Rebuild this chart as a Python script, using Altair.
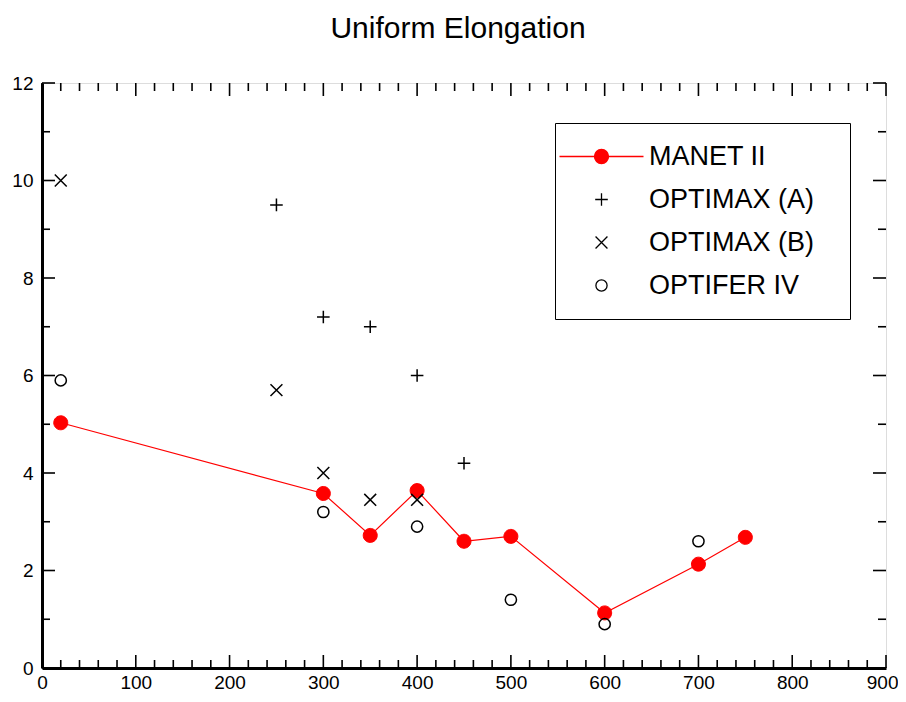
import altair as alt
import pandas as pd

# ---- data ----
series = ["MANET II", "OPTIMAX (A)", "OPTIMAX (B)", "OPTIFER IV"]

manet_x = [20, 300, 350, 400, 450, 500, 600, 700, 750]
manet_y = [5.03, 3.58, 2.72, 3.64, 2.60, 2.70, 1.13, 2.13, 2.68]

optA_x = [250, 300, 350, 400, 450]
optA_y = [9.5, 7.2, 7.0, 6.0, 4.2]

optB_x = [20, 250, 300, 350, 400]
optB_y = [10.0, 5.7, 4.0, 3.45, 3.45]

optf_x = [20, 300, 400, 500, 600, 700]
optf_y = [5.9, 3.2, 2.9, 1.4, 0.9, 2.6]

x_major = list(range(0, 901, 100))
x_minor = [v for v in range(0, 901, 20) if v % 100]
y_major = list(range(0, 13, 2))
y_minor = list(range(1, 12, 2))

# ---- styling ----
W, H = 844, 585
FONT = "Liberation Sans"
MAJ, MIN = 13, 8
PAD_TAIL = "\u00a0\u00a0\u200b"

P_MANET = "M-6,0H-1M1,0H6M-1,0A1,1 0 1,0 1,0A1,1 0 1,0 -1,0Z"
P_CIRC_FILLED = "M-1,0A1,1 0 1,0 1,0A1,1 0 1,0 -1,0Z"
P_PLUS = "M-0.9,0H0.9M0,-0.9V0.9"
P_CROSS = "M-0.85,-0.85L0.85,0.85M-0.85,0.85L0.85,-0.85"
P_CIRC = "M-0.8,0A0.8,0.8 0 1,0 0.8,0A0.8,0.8 0 1,0 -0.8,0Z"

manet = pd.DataFrame({"x": manet_x, "y": manet_y})
optA = pd.DataFrame({"x": optA_x, "y": optA_y})
optB = pd.DataFrame({"x": optB_x, "y": optB_y})
optf = pd.DataFrame({"x": optf_x, "y": optf_y})
legend_df = pd.DataFrame({"series": series, "x": [0] * 4, "y": [0] * 4})

xs = alt.Scale(domain=[0, 900], nice=False, zero=False)
ys = alt.Scale(domain=[0, 12], nice=False, zero=False)

x_axis = alt.Axis(values=x_major, ticks=False, grid=False, title=None,
                  labelFont=FONT, labelFontSize=19, labelColor="black",
                  labelPadding=5, domainColor="black", domainWidth=3,
                  labelFlush=False, labelOverlap=False,
                  labelAlign=alt.ExprRef(expr="datum.value >= 900 ? 'right' : 'center'"),
                  labelOffset=alt.ExprRef(expr="datum.value >= 900 ? 12 : 0"))
y_axis = alt.Axis(values=y_major, ticks=False, grid=False, title=None,
                  labelFont=FONT, labelFontSize=19, labelColor="black",
                  labelPadding=9, domainColor="black", domainWidth=3,
                  labelFlush=False, labelOverlap=False)

X = alt.X("x:Q", scale=xs, axis=x_axis)
Y = alt.Y("y:Q", scale=ys, axis=y_axis)


def xticks(vals, length, top):
    df = pd.DataFrame({"x": vals})
    if top:
        yy, yy2 = alt.value(0), alt.value(length)
    else:
        yy, yy2 = alt.value(H), alt.value(H - length)
    return alt.Chart(df).mark_rule(color="black", strokeWidth=1.6).encode(
        x=alt.X("x:Q", scale=xs, axis=x_axis), y=yy, y2=yy2)


def yticks(vals, length, right):
    df = pd.DataFrame({"y": vals})
    if right:
        xx, xx2 = alt.value(W), alt.value(W - length)
    else:
        xx, xx2 = alt.value(0), alt.value(length)
    return alt.Chart(df).mark_rule(color="black", strokeWidth=1.6).encode(
        y=alt.Y("y:Q", scale=ys, axis=y_axis), x=xx, x2=xx2)


ticks = [
    xticks(x_major, MAJ, False), xticks(x_minor, MIN, False),
    xticks(x_major, MAJ, True), xticks(x_minor, MIN, True),
    yticks(y_major, MAJ, False), yticks(y_minor, MIN, False),
    yticks(y_major, MAJ, True), yticks(y_minor, MIN, True),
]

line = alt.Chart(manet).mark_line(color="red", strokeWidth=1.2).encode(x=X, y=Y)
manet_pts = alt.Chart(manet).mark_point(
    shape=P_CIRC_FILLED, size=196, fill="red", stroke="red", strokeWidth=1,
    opacity=1, filled=True).encode(x=X, y=Y)
a_pts = alt.Chart(optA).mark_point(
    shape=P_PLUS, size=196, stroke="black", strokeWidth=1.5, opacity=1).encode(x=X, y=Y)
b_pts = alt.Chart(optB).mark_point(
    shape=P_CROSS, size=196, stroke="black", strokeWidth=1.5, opacity=1).encode(x=X, y=Y)
f_pts = alt.Chart(optf).mark_point(
    shape=P_CIRC, size=196, stroke="black", strokeWidth=1.5, opacity=1).encode(x=X, y=Y)

legend_layer = alt.Chart(legend_df).transform_filter("false").mark_point(
    opacity=1, size=196, strokeWidth=1.3).encode(
    x=X, y=Y,
    shape=alt.Shape("series:N", scale=alt.Scale(
        domain=series, range=[P_MANET, P_PLUS, P_CROSS, P_CIRC]),
        legend=alt.Legend(title=None, orient="none", legendX=513, legendY=40,
                          padding=20, strokeColor="black", fillColor="white",
                          labelFont=FONT, labelFontSize=27, labelColor="black",
                          symbolSize=196, symbolStrokeWidth=1.3,
                          symbolOpacity=1, rowPadding=15,
                          symbolOffset=13, labelOffset=34,
                          labelExpr="datum.label + '" + PAD_TAIL + "'",
                          labelLimit=400)),
    stroke=alt.Stroke("series:N", scale=alt.Scale(
        domain=series, range=["red", "black", "black", "black"])),
    fill=alt.Fill("series:N", scale=alt.Scale(
        domain=series, range=["red", "transparent", "transparent", "transparent"])),
)

chart = alt.layer(*ticks, line, manet_pts, a_pts, b_pts, f_pts, legend_layer).properties(
    width=W, height=H,
    title=alt.TitleParams("Uniform Elongation", font=FONT, fontSize=30,
                          fontWeight="normal", color="black", anchor="middle",
                          offset=30, dx=-6),
    autosize=alt.AutoSizeParams(type="none"),
    padding={"left": 34, "top": 75, "right": 12, "bottom": 26},
).configure_view(stroke="black", strokeWidth=3).configure(background="white")

chart.save("out.html", embed_options={"renderer": "svg", "actions": False})
